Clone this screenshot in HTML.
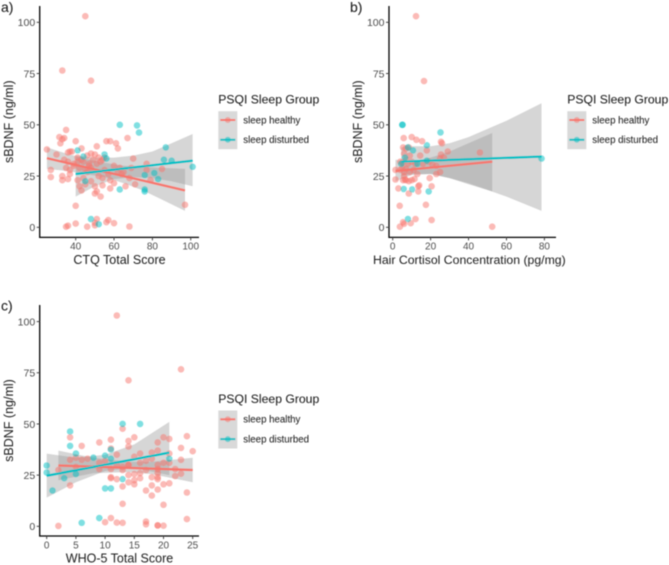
<!DOCTYPE html>
<html>
<head>
<meta charset="utf-8">
<style>
html,body{margin:0;padding:0;background:#fff;}
svg{display:block;font-family:"Liberation Sans",sans-serif;}
</style>
</head>
<body>
<svg id="figure" width="669" height="565" viewBox="0 0 669 565" xmlns="http://www.w3.org/2000/svg">
<defs><filter id="soft" x="-5%" y="-5%" width="110%" height="110%"><feGaussianBlur stdDeviation="0.45"/></filter></defs>
<g id="root" filter="url(#soft)"></g>
</svg>
<script>
// Shared tick labels
const yTicks = [0, 25, 50, 75, 100];
const xTicksA = [40, 60, 80, 100];
const xTicksB = [0, 20, 40, 60, 80];
const xTicksC = [0, 5, 10, 15, 20, 25];
const legendTitle = "PSQI Sleep Group";
const groupNames = ["sleep healthy", "sleep disturbed"];

// Panel a: CTQ
const aHealthyX = [45,33,48,35,31.5,33,34,32,40,43,51,56,58,61,62,67,25,30,36,37,38,41,46,48,50,55,34,36,39,41,43,44,47,49,52,54,35,37,39,42,45,48,51,53,60,63,70,69,77,77,85,27,27,33,33,36,37,41,42,43,44,45,48,50,52,54,54,58,58,60,65,66,68,71,79,51,50,53,40,97,35,36,40,46,50,50,51,56,57,60,68,46,47,55,57,62,64];
const aHealthyY = [103,76.5,71.5,47.5,44,43,43.5,41,42,38.5,39.5,42,42,41,38.5,43.5,38,35.5,36.5,37,37,34,35,36,35.5,34,33,32,31,32,33,32,31,33,34,33,29,28,30,29,28,29,31,32,30,29,33.5,29,31,28,28.5,28,24.5,25,23,23.5,26,23,20,18,24,21,22.5,20,25,24,20.5,19,23,21.5,27,20,24,21,23,17.5,16.5,15,10.5,11,0.3,0.8,1.8,0.3,1,2.2,4,2.5,3.5,2,0.4,27,30,28,26,27,26];
const aDisturbedX = [63,72,73,41,44,55,56,87,86,90,101,76,81,83,76,76,63,45,48,52];
const aDisturbedY = [50,49.7,46.2,37.5,34.5,35.5,33.5,39,33,32.5,29.5,25.5,26.5,23.5,18.5,17.5,18.5,22.5,4,1.5];
const aHealthyFitX = [25,97];
const aHealthyFitY = [33.7,18];
const aDisturbedFitX = [40,101];
const aDisturbedFitY = [26,32.5];
const aHealthyBandX = [25,35,45,55,65,75,85,97];
const aHealthyBandHi = [39,36,33.5,31.5,30,29.5,29,28.5];
const aHealthyBandLo = [28.5,27.5,26,24.5,21.5,18,13.5,8];
const aDisturbedBandX = [40,50,60,70,80,90,101];
const aDisturbedBandHi = [35,34,34,35,37,41,45.5];
const aDisturbedBandLo = [15,20,23.5,24.5,24,22.5,20];

// Panel b: hair cortisol
const bHealthyX = [12.3,16.5,10,5.8,12.5,15.5,25.5,26,5.5,7,8.5,18,29,46,6,9,14.5,25.5,27,25,4,5,7,8,10,12,16,19,21,23,1.5,4,5,6,7,9,11,13,23,25,19.5,1.5,5.5,6.5,7,8.5,10,11.5,6,3,14,13.5,20.5,8.5,13.5,3.7,17.5,5.5,6,3.8,9.5,12,20.5,52.5];
const bHealthyY = [103,71.3,44,43.5,42.7,42,41.7,41,39,38.5,39,37.5,37,36.5,36,35,35,35.5,34,33.5,32,31.5,33,31,32,31,31,32,30.5,30,28,28,29,27,28.5,27,28,26,26,27,24,23.3,23,23.3,23,22.5,23,23.5,25,19,20.5,20,20,16.5,17.5,10.5,11,2.5,1.7,0.3,2,4,3.5,0.3];
const bDisturbedX = [5,5.2,25.2,18,8,10.7,6.5,18,78.5,4.5,13,5.8,10.3,19,8];
const bDisturbedY = [50,50,46.3,40,39,37.5,34,32.5,33.5,31,31,18.7,18.5,17.5,4];
const bHealthyFitX = [1.5,52.5];
const bHealthyFitY = [27.5,32];
const bDisturbedFitX = [4.5,78.5];
const bDisturbedFitY = [32,34.5];
const bHealthyBandX = [1.5,10,20,30,40,52.5];
const bHealthyBandHi = [33,32,34,37,41,46];
const bHealthyBandLo = [22.5,25.5,26,24,21,17.5];
const bDisturbedBandX = [4.5,10,20,30,40,60,78.5];
const bDisturbedBandHi = [39,39.5,39.5,41,44,52,60.5];
const bDisturbedBandLo = [25,26,26,24,21.5,15,8];

// Panel c: WHO-5
const cHealthyX = [12,23,14,13,4,11,14,15,9,19,20,21,24,6,11,12,14,19,23,25,21,18,16,15,4,5,6,7,9,10,12,13,14,16,17,18,19,20,21,23,2,5,9,11,13,14,15,17,18,19,19,19,19,22,22,23,11,11,12,13,14,15,15,16,17,18,18,19,20,21,24,4,13,20,10,11,12,13,17,17,19,19,20,24,2,14,16];
const cHealthyY = [103,76.7,71.3,47.7,43.5,42.3,41.7,43.5,41,41,43.5,42.7,44,39.3,38,35,39,37,38.3,36.7,35.5,36,35.5,34,32.5,33.5,32.5,33,31,32,30,29,30,31,32,33,30,31,31,32.5,27.5,29,28,28,27.5,25,25.5,27.5,24,28,26,24,23,28,24.5,25.7,23.5,24,23,19.5,21.5,20.5,22.5,23.5,17.5,20,15,18,20.5,21,16.5,20,11,10.5,2,4,1.8,1.7,2.3,1,0.5,0.4,0.3,3.5,0.2,30,26];
const cDisturbedX = [13,16,4,4,11,5,8,10,11,21,0,0,5,3,13,10,11,1,9,6];
const cDisturbedY = [50,50,46.3,39.3,37.5,35.5,33.5,34.5,33,33,29.7,26.3,25.5,23.5,23,18.5,18.5,17.5,4,1.7];
const cHealthyFitX = [2,25];
const cHealthyFitY = [29.7,27.5];
const cDisturbedFitX = [0,21];
const cDisturbedFitY = [24.7,36];
const cHealthyBandX = [2,8,14,18,25];
const cHealthyBandHi = [37,33.5,31.5,31.5,33.5];
const cHealthyBandLo = [22.5,26,26.5,25.5,21.5];
const cDisturbedBandX = [0,5,10,15,21];
const cDisturbedBandHi = [35.5,33.5,35,40,51];
const cDisturbedBandLo = [14,21.5,27,28.5,25];

const NS = "http://www.w3.org/2000/svg";
const root = document.getElementById("root");
const RED = "#F8766D", TEAL = "#00BFC4";

function mk(parent, tag, attrs, txt) {
  const el = document.createElementNS(NS, tag);
  for (const k in attrs) el.setAttribute(k, attrs[k]);
  if (txt !== undefined) el.textContent = txt;
  parent.appendChild(el);
  return el;
}

function drawPanel(p) {
  const g = mk(root, "g", {});
  
  
  const sx = v => p.x0px + (v - p.x0val) * p.xScale;
  const sy = v => p.y0px - v * p.yScale;

  // confidence bands
  [p.healthy, p.disturbed].forEach((s, i) => {
    const top = s.bandX.map((x, j) => sx(x).toFixed(1) + "," + sy(s.hi[j]).toFixed(1));
    const bot = s.bandX.map((x, j) => sx(x).toFixed(1) + "," + sy(s.lo[j]).toFixed(1)).reverse();
    const band = mk(g, "polygon", {points: top.concat(bot).join(" "), fill: "#999999", "fill-opacity": 0.4});
    
    
  });

  // points
  [p.healthy, p.disturbed].forEach((s, i) => {
    s.x.forEach((x, j) => {
      const c = mk(g, "circle", {cx: sx(x).toFixed(1), cy: sy(s.y[j]).toFixed(1), r: 3.3, fill: s.color, "fill-opacity": 0.5});
      
      
    });
  });

  // fit lines
  [p.healthy, p.disturbed].forEach((s, i) => {
    const l = mk(g, "line", {x1: sx(s.fitX[0]), y1: sy(s.fitY[0]), x2: sx(s.fitX[1]), y2: sy(s.fitY[1]), stroke: s.color, "stroke-width": 2.2});
    
    
  });

  // axes
  const yAxis = mk(g, "line", {x1: p.left, y1: p.top, x2: p.left, y2: p.bottom + 0.6, stroke: "#000", "stroke-width": 1.3});
  
  
  const xAxis = mk(g, "line", {x1: p.left, y1: p.bottom, x2: p.right, y2: p.bottom, stroke: "#000", "stroke-width": 1.3});
  
  

  yTicks.forEach(v => {
    const t = mk(g, "line", {x1: p.left - 3, y1: sy(v), x2: p.left, y2: sy(v), stroke: "#333", "stroke-width": 0.9});
    
    
    const lb = mk(g, "text", {x: p.left - 4.5, y: sy(v) + 3.8, "text-anchor": "end", "font-size": 10.5, fill: "#4d4d4d"}, v);
    
    
  });
  p.xTicks.forEach(v => {
    const t = mk(g, "line", {x1: sx(v), y1: p.bottom, x2: sx(v), y2: p.bottom + 3, stroke: "#333", "stroke-width": 0.9});
    
    
    const lb = mk(g, "text", {x: sx(v), y: p.bottom + 12.3, "text-anchor": "middle", "font-size": 10, fill: "#4d4d4d"}, v);
    
    
  });

  // titles
  const xt = mk(g, "text", {x: p.xTitleX, y: p.bottom + 26.4, "text-anchor": p.xTitleAnchor, "font-size": p.xTitleSize, fill: "#1a1a1a"}, p.xTitle);
  
  
  const yMid = (p.top + p.bottom) / 2;
  const yt = mk(g, "text", {x: p.yTitleX, y: yMid, "text-anchor": "middle", "font-size": 12.5, fill: "#1a1a1a", transform: "rotate(-90 " + p.yTitleX + " " + yMid + ")"}, "sBDNF (ng/ml)");
  
  
  const tag = mk(g, "text", {x: p.tagX, y: p.tagY, "font-size": 14, fill: "#111"}, p.id + ")");
  
  

  // legend
  const lg = mk(g, "g", {});
  
  
  const lt = mk(lg, "text", {x: p.legX, y: p.legY, "font-size": 12.2, fill: "#111"}, legendTitle);
  
  
  const box = mk(lg, "rect", {x: p.legX, y: p.legY + 7.5, width: 19, height: 38, fill: "#d9d9d9"});
  
  
  [RED, TEAL].forEach((col, i) => {
    const cy = p.legY + 16.3 + i * 19.8;
    const kl = mk(lg, "line", {x1: p.legX + 2, y1: cy, x2: p.legX + 17, y2: cy, stroke: col, "stroke-width": 2});
    
    
    const kc = mk(lg, "circle", {cx: p.legX + 9.5, cy: cy, r: 3, fill: col, "fill-opacity": 0.5});
    
    
    const kt = mk(lg, "text", {x: p.legX + 25, y: cy + 3.4, "font-size": 9.7, fill: "#111"}, groupNames[i]);
    
    
  });
}

drawPanel({
  id: "a", x0val: 40, x0px: 75.7, xScale: 1.917, y0px: 227.3, yScale: 2.05,
  left: 39.7, right: 199, top: 6, bottom: 237.4,
  xTicks: xTicksA, xTitle: "CTQ Total Score", xTitleX: 119.5, xTitleAnchor: "middle", xTitleSize: 12.5,
  yTitleX: 13, tagX: 1, tagY: 12, legX: 218.3, legY: 103.7,
  healthy: {x: aHealthyX, y: aHealthyY, fitX: aHealthyFitX, fitY: aHealthyFitY, bandX: aHealthyBandX, hi: aHealthyBandHi, lo: aHealthyBandLo, color: RED},
  disturbed: {x: aDisturbedX, y: aDisturbedY, fitX: aDisturbedFitX, fitY: aDisturbedFitY, bandX: aDisturbedBandX, hi: aDisturbedBandHi, lo: aDisturbedBandLo, color: TEAL}
});
drawPanel({
  id: "b", x0val: 0, x0px: 392.7, xScale: 1.896, y0px: 227.3, yScale: 2.05,
  left: 389, right: 556, top: 6, bottom: 237.4,
  xTicks: xTicksB, xTitle: "Hair Cortisol Concentration (pg/mg)", xTitleX: 373, xTitleAnchor: "start", xTitleSize: 12.25,
  yTitleX: 362, tagX: 350, tagY: 12, legX: 567.3, legY: 103.7,
  healthy: {x: bHealthyX, y: bHealthyY, fitX: bHealthyFitX, fitY: bHealthyFitY, bandX: bHealthyBandX, hi: bHealthyBandHi, lo: bHealthyBandLo, color: RED},
  disturbed: {x: bDisturbedX, y: bDisturbedY, fitX: bDisturbedFitX, fitY: bDisturbedFitY, bandX: bDisturbedBandX, hi: bDisturbedBandHi, lo: bDisturbedBandLo, color: TEAL}
});
drawPanel({
  id: "c", x0val: 0, x0px: 46.7, xScale: 5.84, y0px: 526.3, yScale: 2.047,
  left: 39.7, right: 199, top: 305, bottom: 536,
  xTicks: xTicksC, xTitle: "WHO-5 Total Score", xTitleX: 119.5, xTitleAnchor: "middle", xTitleSize: 12.5,
  yTitleX: 13, tagX: 1, tagY: 310.5, legX: 218.3, legY: 403,
  healthy: {x: cHealthyX, y: cHealthyY, fitX: cHealthyFitX, fitY: cHealthyFitY, bandX: cHealthyBandX, hi: cHealthyBandHi, lo: cHealthyBandLo, color: RED},
  disturbed: {x: cDisturbedX, y: cDisturbedY, fitX: cDisturbedFitX, fitY: cDisturbedFitY, bandX: cDisturbedBandX, hi: cDisturbedBandHi, lo: cDisturbedBandLo, color: TEAL}
});
</script>
</body>
</html>
